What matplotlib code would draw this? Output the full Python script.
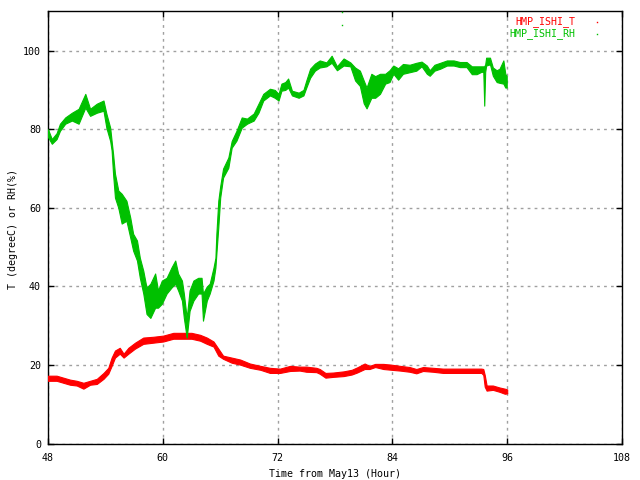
import matplotlib
matplotlib.use("Agg")
import matplotlib.pyplot as plt

# RH envelope (time in hours, lower and upper values)
rh_t = [48.0, 48.4, 48.9, 49.25, 49.8, 50.5, 51.2, 51.9, 52.4, 53.1, 53.8, 54.1, 54.5, 54.65,
        54.8, 55.0, 55.35, 55.7, 56.2, 56.6, 56.9, 57.3, 57.6, 57.96, 58.3, 58.7, 59.2, 59.5,
        59.9, 60.4, 60.9, 61.3, 61.6, 62.0, 62.2, 62.5, 62.8, 63.2, 63.7, 64.05, 64.2, 64.6,
        64.9, 65.3, 65.5, 65.6, 65.8, 66.0, 66.3, 66.85, 67.2, 67.7, 68.25, 68.8, 69.5, 70.0,
        70.5, 71.2, 71.7, 72.1, 72.4, 72.8, 73.1, 73.5, 74.2, 74.7, 75.0, 75.4, 75.9, 76.4,
        77.1, 77.65, 78.2, 78.9, 79.6, 80.1, 80.6, 81.0, 81.3, 81.8, 82.2, 82.7, 83.25, 83.7,
        84.1, 84.6, 85.1, 85.8, 86.5, 87.05, 87.6, 87.9, 88.4, 89.0, 89.7, 90.4, 91.05, 91.75,
        92.3, 92.8, 93.3, 93.5, 93.6, 93.7, 93.8, 94.2, 94.5, 94.9, 95.2, 95.6, 95.8, 95.95]
rh_lo = [78, 76.3, 77.5, 79.6, 81.4, 82.2, 81.4, 85.5, 83.4, 84.2, 84.7, 80.4, 77, 74.6,
         68.7, 62.6, 60, 56, 56.7, 52.4, 49.1, 46.6, 42.2, 38.2, 33, 32, 34.6, 34.6,
         35.6, 38.2, 39.7, 40.7, 39, 36.4, 32, 27, 33.8, 36.4, 38.2, 38.2, 31.3, 36.4,
         38.2, 41.5, 44.8, 48.3, 55, 62.6, 67.7, 70.2, 75.3, 77.1, 80.4, 81.4, 82.2, 84.2,
         87.3, 88.6, 88, 87.3, 89.8, 90, 90.6, 88.6, 88, 88.6, 90.6, 93.1, 94.9, 95.7,
         96, 96.9, 95, 96.2, 96, 92.4, 91, 86.6, 85.3, 88, 88, 89, 91.6, 92,
         94.1, 92.6, 94.1, 94.5, 94.9, 96, 94.1, 93.6, 94.9, 95.4, 96.2, 96.2, 95.8, 95.8,
         94, 94, 94.6, 94.6, 86, 94.6, 96.2, 96.5, 93.6, 92, 91.8, 91.6, 90.6, 90.6]
rh_hi = [80, 77.5, 79, 81.4, 83, 84.2, 85.2, 89, 85.2, 86.5, 87.3, 84, 80.4, 77,
         73.8, 68.7, 64.4, 63.6, 61.8, 57.5, 53.4, 51.7, 47.3, 44, 39.7, 40.7, 43.3, 39,
         41.5, 42.2, 44.8, 46.6, 43.3, 41.5, 38.2, 32, 39, 41.5, 42.2, 42.2, 38.2, 40,
         40.7, 44.8, 47.3, 53.4, 61.8, 65.5, 70, 72.8, 77, 79.6, 83, 82.7, 84, 86.5,
         89, 90.3, 90, 89, 91.6, 92, 92.9, 89.8, 89.3, 90, 92.4, 95.4, 96.7, 97.5,
         97, 98.7, 96, 98, 97, 95.7, 94.9, 92.4, 90.6, 94.1, 93.5, 94.1, 94.1, 95,
         96.2, 95.5, 96.6, 96.4, 96.9, 97.2, 96.2, 95, 96.4, 96.9, 97.5, 97.5, 97.1, 97.1,
         96, 96, 96, 96, 96, 96.5, 98.2, 98.2, 95.7, 95, 95.4, 97.5, 94.1, 93.5]

# isolated RH points above the main trace
rh_out_t = [78.76, 78.76]
rh_out_v = [106.6, 109.7]

# Temperature envelope
t_t = [48.0, 48.9, 49.6, 50.3, 51.0, 51.7, 52.4, 53.1, 53.8, 54.3, 54.65, 55.0, 55.5, 55.9,
       56.4, 57.1, 57.96, 59.0, 60.05, 61.1, 62.1, 63.0, 63.9, 64.6, 65.3, 65.8, 66.3, 67.2,
       68.1, 69.1, 70.2, 71.2, 72.25, 73.3, 74.3, 75.0, 76.05, 76.4, 77.0, 77.8, 78.9, 79.75,
       80.3, 81.1, 81.6, 82.2, 83.05, 83.9, 84.8, 85.8, 86.5, 87.2, 88.25, 89.3, 90.35, 91.4,
       92.45, 93.3, 93.5, 93.65, 93.85, 94.5, 95.2, 95.75, 96.0]
t_lo = [16.0, 16.0, 15.5, 15.0, 14.8, 14.0, 15.0, 15.2, 16.5, 17.8, 19.8, 21.9, 22.9, 21.9,
        22.9, 24.2, 25.4, 25.7, 26.0, 26.7, 26.7, 26.7, 26.2, 25.4, 24.7, 22.4, 21.6, 20.6,
        20.1, 19.3, 18.8, 18.0, 18.0, 18.5, 18.6, 18.3, 18.2, 17.8, 16.8, 17.0, 17.2, 17.6,
        18.1, 19.0, 19.0, 19.5, 19.0, 18.8, 18.6, 18.3, 17.9, 18.5, 18.3, 18.0, 18.0, 18.0,
        18.0, 18.0, 17.5, 14.5, 13.5, 13.7, 13.2, 12.7, 12.8]
t_hi = [17.3, 17.3, 16.8, 16.3, 16.0, 15.5, 16.0, 16.5, 18.0, 19.3, 21.9, 23.7, 24.4, 22.9,
        24.4, 25.7, 27.0, 27.2, 27.5, 28.2, 28.2, 28.2, 27.7, 27.0, 26.0, 24.2, 22.4, 21.9,
        21.4, 20.4, 19.8, 19.3, 19.1, 19.8, 19.6, 19.6, 19.3, 19.0, 18.0, 18.1, 18.4, 18.8,
        19.4, 20.4, 19.8, 20.3, 20.3, 20.1, 19.8, 19.5, 19.0, 19.5, 19.3, 19.1, 19.1, 19.1,
        19.1, 19.1, 19.0, 17.5, 14.8, 14.8, 14.3, 14.0, 13.8]

x_ticks = [48, 60, 72, 84, 96, 108]
y_ticks = [0, 20, 40, 60, 80, 100]
series_names = ["HMP_ISHI_T", "HMP_ISHI_RH"]

RED = "#ff0000"
GREEN = "#00c000"
FONT = "DejaVu Sans Mono"
FS = 7.2

fig = plt.figure(figsize=(6.4, 4.8), dpi=100)
ax = fig.add_axes([48/640, 1-443.7/480, (622-48)/640, (443.7-11.3)/480])

ax.fill_between(t_t, t_lo, t_hi, color=RED, linewidth=0.8, edgecolor=RED, zorder=3)
ax.fill_between(rh_t, rh_lo, rh_hi, color=GREEN, linewidth=0.8, edgecolor=GREEN, zorder=4)
ax.plot(rh_out_t, rh_out_v, linestyle="none", marker="s", ms=1.0, color=GREEN, mew=0, zorder=4)

ax.set_xlim(48, 108)
ax.set_ylim(0, 110)
ax.set_xticks(x_ticks)
ax.set_yticks(y_ticks)
ax.set_xticklabels([str(v) for v in x_ticks], fontfamily=FONT, fontsize=FS)
ax.set_yticklabels([str(v) for v in y_ticks], fontfamily=FONT, fontsize=FS)
ax.tick_params(direction="in", length=4, width=1, top=True, right=True, colors="black")
ax.tick_params(axis="x", pad=7)
ax.tick_params(axis="y", pad=5)
ax.grid(True, color="#a0a0a0", linestyle=(0, (2, 3)), linewidth=1)
for s in ax.spines.values():
    s.set_linewidth(1)

fig.text(335/640, 1 - 474/480, "Time from May13 (Hour)", ha="center", va="center",
         fontfamily=FONT, fontsize=FS)
fig.text(12.7/640, 1 - 229/480, "T (degreeC) or RH(%)", ha="center", va="center",
         rotation=90, fontfamily=FONT, fontsize=FS)

# legend (gnuplot style: right-aligned labels, dot samples)
for i, (name, col) in enumerate(zip(series_names, [RED, GREEN])):
    ypx = 22 + 12 * i
    fig.text(575/640, 1 - ypx/480, name, color=col, ha="right", va="center",
             fontfamily=FONT, fontsize=FS)
    fig.lines.append(plt.Line2D([597/640], [1 - ypx/480], transform=fig.transFigure,
                                marker="s", ms=1.0, mew=0, color=col, linestyle="none"))

fig.savefig("out.png", dpi=100)
